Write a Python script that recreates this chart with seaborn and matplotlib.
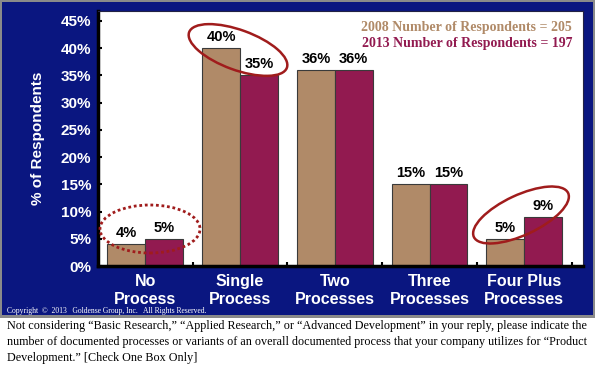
import pandas as pd
import numpy as np
import matplotlib as mpl
import matplotlib.pyplot as plt
import seaborn as sns
from matplotlib.patches import Ellipse, Rectangle

categories = ['No\nProcess', 'Single\nProcess', 'Two\nProcesses', 'Three\nProcesses', 'Four Plus\nProcesses']
pct_2008 = [4, 40, 36, 15, 5]
pct_2013 = [5, 35, 36, 15, 9]
years = ['2008', '2013']
legend_lines = ['2008 Number of Respondents = 205', '2013 Number of Respondents = 197']
yticks = [0, 5, 10, 15, 20, 25, 30, 35, 40, 45]

NAVY = '#0a1680'
TAN = '#b08a68'
MAROON = '#921a50'
RING = '#a01c1c'

df = pd.DataFrame({
    'Category': categories * 2,
    'Pct': pct_2008 + pct_2013,
    'Year': [years[0]] * 5 + [years[1]] * 5,
})

sns.set_theme(style='white')
plt.rcParams['font.family'] = ['Liberation Sans', 'DejaVu Sans']

fig = plt.figure(figsize=(5.95, 3.69), dpi=100, facecolor='white')
# gray frame + navy panel
fig.patches.append(Rectangle((0, 51/369), 1, 318/369, transform=fig.transFigure,
                             facecolor='#8a8a8a', edgecolor='none', zorder=-3))
fig.patches.append(Rectangle((2/595, 54/369), 591/595, 313/369, transform=fig.transFigure,
                             facecolor=NAVY, edgecolor='none', zorder=-2))

ax = fig.add_axes([98/595, 103/369, 485/595, 255/369])
sns.barplot(data=df, x='Category', y='Pct', hue='Year', palette=[TAN, MAROON], saturation=1,
            width=0.8, edgecolor='#3a3a3a', linewidth=0.8, legend=False, ax=ax)

ax.set_facecolor('white')
ax.set_xlim(-0.5, 4.62)
ax.set_ylim(0, 46.8)
ax.set_yticks(yticks)
ax.set_yticklabels([f'{v}%' for v in yticks], color='white', fontsize=11, fontweight='bold')
ax.set_xticks(range(5))
ax.set_xticklabels(categories, color='white', fontsize=11.5, fontweight='bold', linespacing=1.25)
ax.set_xticks([0.5, 1.5, 2.5, 3.5, 4.5], minor=True)
ax.tick_params(axis='x', which='major', length=0, pad=6)
ax.tick_params(axis='x', which='minor', direction='in', length=3, width=1.5, color='black', bottom=True)
ax.tick_params(axis='y', direction='in', length=3, width=1.5, color='black', pad=5, left=True)
ax.set_xlabel('')
ax.set_ylabel('% of Respondents', color='white', fontsize=11, fontweight='bold', labelpad=11)

for side in ['left', 'bottom']:
    ax.spines[side].set_color('black')
    ax.spines[side].set_linewidth(2.5)
for side in ['top', 'right']:
    ax.spines[side].set_color('#222244')
    ax.spines[side].set_linewidth(0.8)

for container in ax.containers:
    ax.bar_label(container, labels=[f'{v:.0f}%' for v in container.datavalues],
                 padding=3, fontsize=10.5, fontweight='bold', color='black')

# legend text
fig.text(572/595, 1 - 27/369, legend_lines[0], ha='right', va='center', color=TAN,
         fontsize=10, fontweight='bold', family='Liberation Serif')
fig.text(572/595, 1 - 43/369, legend_lines[1], ha='right', va='center', color=MAROON,
         fontsize=10, fontweight='bold', family='Liberation Serif')

# highlight rings
tr = fig.dpi_scale_trans
fig.patches.append(Ellipse((1.50, 1.40), 1.00, 0.48, angle=0, transform=tr, fill=False,
                           edgecolor=RING, linewidth=2, linestyle=(0, (1, 1.0)), zorder=5))
fig.patches.append(Ellipse((2.38, 3.19), 1.04, 0.40, angle=-20, transform=tr, fill=False,
                           edgecolor=RING, linewidth=1.8, zorder=5))
fig.patches.append(Ellipse((5.21, 1.54), 1.04, 0.40, angle=25, transform=tr, fill=False,
                           edgecolor=RING, linewidth=1.8, zorder=5))

fig.text(7/595, 1 - 311/369, 'Copyright  \u00a9  2013   Goldense Group, Inc.   All Rights Reserved.',
         color='white', fontsize=5.5, family='Liberation Serif', va='center')

caption = ('Not considering \u201cBasic Research,\u201d \u201cApplied Research,\u201d or \u201cAdvanced Development\u201d in your reply, please indicate the\n'
           'number of documented processes or variants of an overall documented process that your company utilizes for \u201cProduct\n'
           'Development.\u201d [Check One Box Only]')
fig.text(7/595, 1 - 320/369, caption, color='black', fontsize=8.75, family='Liberation Serif',
         va='top', ha='left', linespacing=1.42)

fig.savefig('out.png', dpi=100, facecolor='white')
